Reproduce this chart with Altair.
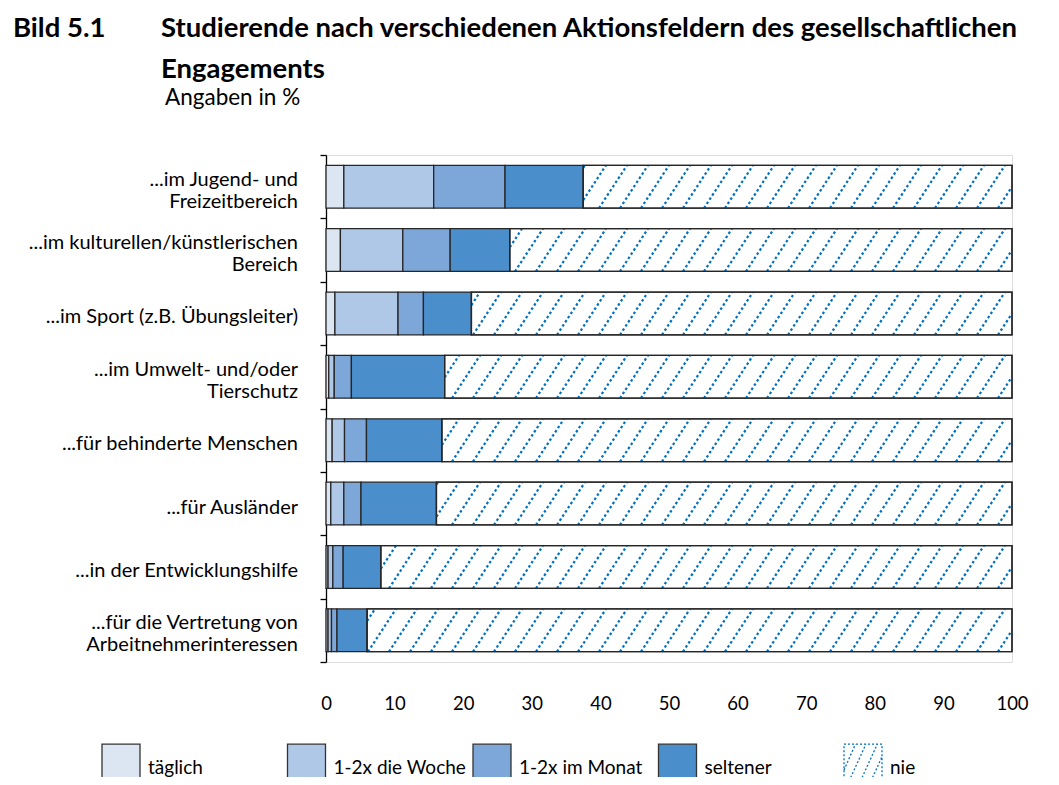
import altair as alt
import numpy as np
import pandas as pd

# ---------------- data ----------------
categories = [
    "...im Jugend- und\nFreizeitbereich",
    "...im kulturellen/künstlerischen\nBereich",
    "...im Sport (z.B. Übungsleiter)",
    "...im Umwelt- und/oder\nTierschutz",
    "...für behinderte Menschen",
    "...für Ausländer",
    "...in der Entwicklungshilfe",
    "...für die Vertretung von\nArbeitnehmerinteressen",
]
levels = ["täglich", "1-2x die Woche", "1-2x im Monat", "seltener", "nie"]
taeglich = [2.6, 2.1, 1.3, 0.4, 0.9, 0.7, 0.3, 0.3]
woche = [13.1, 9.1, 9.2, 0.8, 1.8, 1.9, 0.7, 0.5]
monat = [10.4, 6.9, 3.7, 2.5, 3.2, 2.5, 1.5, 0.8]
seltener = [11.4, 8.7, 7.0, 13.6, 11.0, 11.0, 5.5, 4.4]
nie = [62.5, 73.2, 78.8, 82.7, 83.1, 83.9, 92.0, 94.0]
x_ticks = list(range(0, 101, 10))

title_left = "Bild 5.1"
title_lines = ["Studierende nach verschiedenen Aktionsfeldern des gesellschaftlichen", "Engagements"]
subtitle = "Angaben in %"

# ---------------- styles ----------------
colors = ["#DCE6F2", "#B0C8E8", "#7EA7D9", "#4A8ECC", "#FFFFFF"]
W, H = 686, 507
BAR = 0.675
half = BAR / 2
FONT = "Lato"
LABEL_SIZE = 20
LABEL_LH = 22

# ---------------- tables ----------------
series = [taeglich, woche, monat, seltener, nie]
rows = []
for i, c in enumerate(categories):
    start = 0.0
    for lvl, vals in zip(levels, series):
        v = vals[i]
        rows.append(dict(cat=c, idx=i, level=lvl, start=start, end=start + v,
                         y0=i + 0.5 - half, y1=i + 0.5 + half))
        start += v
df = pd.DataFrame(rows)

# hatch texture for the "nie" segments (derived from the segment extents)
px = 100.0 / W
sp = 21 * px
run = 28 * px
hatch = []
for i in range(len(categories)):
    s = taeglich[i] + woche[i] + monat[i] + seltener[i]
    e = s + nie[i]
    yb, yt = i + 0.5 + half, i + 0.5 - half
    for k in range(int(np.floor((s - run) / sp)) - 1, int(np.ceil(e / sp)) + 1):
        xb = k * sp
        t0 = max(0.0, (s - xb) / run)
        t1 = min(1.0, (e - xb) / run)
        if t1 - t0 > 0.03:
            hatch.append(dict(x=xb + t0 * run, x2=xb + t1 * run,
                              y=yb + t0 * (yt - yb), y2=yb + t1 * (yt - yb)))
hdf = pd.DataFrame(hatch)

lab_df = pd.DataFrame({"cat": categories, "idx": list(range(len(categories)))})

# ---------------- chart ----------------
x_scale = alt.Scale(domain=[0, 100], nice=False, zero=False)
y_scale = alt.Scale(domain=[0, len(categories)], reverse=True, nice=False, zero=False)

r = 1.263
sq_path = f"M-1,-{r}H1V{r}H-1Z"
nie_path = (f"M-1,-{r}H1V{r}H-1Z M-1,0.1L-0.4,-{r} M-1,{r}L0.15,-{r} M-0.4,{r}L0.75,-{r} "
            f"M0.15,{r}L1,-0.6 M0.75,{r}L1,0.75")

bars = alt.Chart(df).mark_rect(stroke="#262626", strokeWidth=1.3).encode(
    x=alt.X("start:Q", scale=x_scale,
            axis=alt.Axis(values=x_ticks, title=None, domain=False, ticks=False, grid=False,
                          labelFlush=False, labelOverlap=False,
                          labelFontSize=18.5, labelPadding=32, labelColor="black", labelFont=FONT)),
    x2="end:Q",
    y=alt.Y("y0:Q", scale=y_scale,
            axis=alt.Axis(values=list(range(len(categories) + 1)), labels=False, title=None,
                          grid=False, tickSize=6, domainColor="black", tickColor="black",
                          domainWidth=1.3, tickWidth=1.3)),
    y2="y1:Q",
    color=alt.Color("level:N", scale=alt.Scale(domain=levels, range=colors),
                    legend=alt.Legend(
                        title=None, orient="none", legendX=-225, legendY=593,
                        direction="horizontal", columns=5, gridAlign="all",
                        columnPadding=3.5,
                        symbolType={"expr": "datum.value === 'nie' ? '" + nie_path + "' : '" + sq_path + "'"},
                        symbolStrokeColor={"expr": "datum.value === 'nie' ? '#0070C0' : '#333333'"},
                        symbolDash={"expr": "datum.value === 'nie' ? [2, 2] : []"},
                        symbolSize=1444, symbolStrokeWidth=1.3, labelFontSize=19, labelOffset=7,
                        labelColor="black", labelFont=FONT)),
)

hatch_layer = alt.Chart(hdf).mark_rule(color="#0070C0", strokeWidth=2.2, strokeDash=[2.5, 2.5]).encode(
    x=alt.X("x:Q", title=None), x2="x2:Q",
    y=alt.Y("y:Q", title=None), y2="y2:Q",
)

outline = alt.Chart(df[df["level"] == "nie"]).mark_rect(
    fillOpacity=0, stroke="#262626", strokeWidth=1.3).encode(
    x=alt.X("start:Q", title=None), x2="end:Q",
    y=alt.Y("y0:Q", title=None), y2="y1:Q",
)

# category labels: multi-line blocks centred on their row
unit_px = H / len(categories)
labels = alt.Chart(lab_df).transform_calculate(
    nl="length(split(datum.cat, '\\n'))",
).transform_calculate(
    yc=f"datum.idx + 0.5 - (datum.nl - 1) * {LABEL_LH / 2 / unit_px}"
).mark_text(
    align="right", baseline="middle", lineBreak="\n", fontSize=LABEL_SIZE, lineHeight=LABEL_LH,
    font=FONT, color="black", dy=4).encode(
    x=alt.value(-28),
    y=alt.Y("yc:Q", title=None),
    text="cat:N",
)


def txt(t, x, y, size, bold):
    return alt.Chart(pd.DataFrame({"t": [t]})).mark_text(
        align="left", baseline="alphabetic", fontSize=size, font=FONT,
        fontWeight="bold" if bold else "normal", color="black").encode(
        x=alt.value(x), y=alt.value(y), text="t:N")


t0 = txt(title_left, -313, -118, 27.5, True)
t1 = txt(title_lines[0], -165, -118, 27.5, True)
t2 = txt(title_lines[1], -165, -77, 27.5, True)
t3 = txt(subtitle, -161, -50, 22.5, False)

chart = alt.layer(bars, hatch_layer, outline, labels, t0, t1, t2, t3).properties(
    width=W, height=H,
    autosize=alt.AutoSizeParams(type="none"),
    padding={"left": 318, "top": 147, "right": 39, "bottom": 115},
).configure_view(stroke=None).configure(font=FONT)

chart.save("out.html", embed_options={"renderer": "svg", "actions": False})
